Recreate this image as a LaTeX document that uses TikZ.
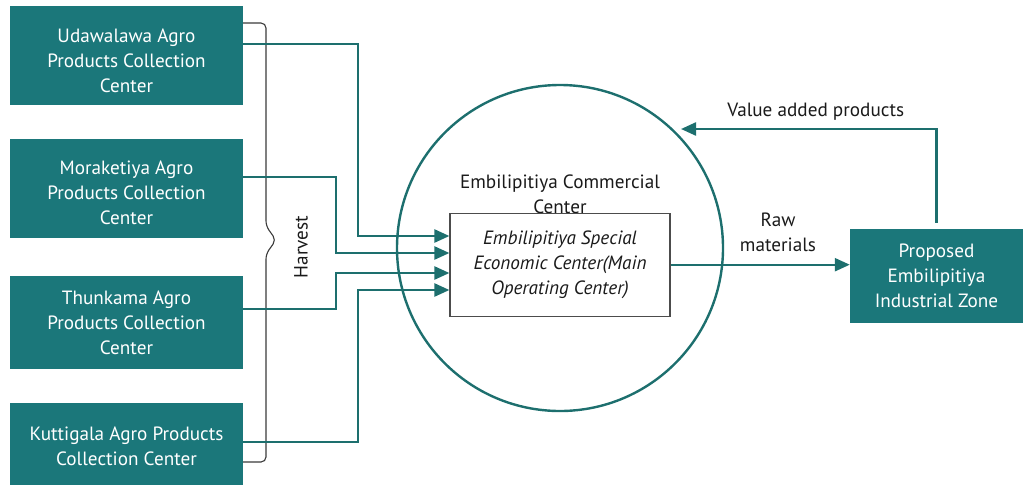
\documentclass[tikz,border=0pt]{standalone}
\usepackage{fontspec}
\setmainfont{PT Sans}
\usetikzlibrary{arrows.meta,calc}
\definecolor{tealfill}{HTML}{1B777A}
\definecolor{tealline}{HTML}{1D6F6E}
\definecolor{txt}{HTML}{1A1A1A}
\definecolor{bracec}{HTML}{3A3A3A}
\begin{document}
\begin{tikzpicture}[x=1pt,y=-1pt,
  src/.style={fill=tealfill,text=white,align=center,font=\fontsize{19.2}{25}\selectfont,inner sep=0pt,minimum width=233pt},
  conn/.style={draw=tealline,line width=2.4pt,-{Triangle[length=15pt,width=13pt]}},
  lbl/.style={text=txt,align=center,font=\fontsize{19.2}{25}\selectfont,inner sep=0pt},
  brace/.style={draw=bracec,line width=1.1pt,rounded corners=5pt}]
\useasboundingbox (0,0) rectangle (1024,485);
% source boxes
\node[src,minimum height=99pt] (b1) at (126.5,55.5) {\rule{0pt}{24pt}Udawalawa Agro\\Products Collection\\Center};
\node[src,minimum height=99pt] (b2) at (126.5,188.5) {\rule{0pt}{22pt}Moraketiya Agro\\Products Collection\\Center};
\node[src,minimum height=93pt] (b3) at (126.5,322.5) {Thunkama Agro\\Products Collection\\Center};
\node[src,minimum height=82pt] (b4) at (126.5,444) {\rule{0pt}{18pt}Kuttigala Agro Products\\Collection Center};
% brace
\draw[brace] (b1.east |- 0,23) -- (266,23) -- (266,226) -- (276,240) -- (266,254) -- (266,462) -- (b4.east |- 0,462);
\node[lbl,rotate=90] (hv) at (301,247) {Harvest};
% commercial center circle
\node[draw=tealline,line width=2.4pt,circle,minimum size=326pt,inner sep=0pt] (cc) at (560,248) {};
\node[lbl] (cl) at (560,194) {Embilipitiya Commercial\\Center};
\node[draw=black!70,line width=1.2pt,minimum width=220pt,minimum height=103pt,inner sep=0pt,align=center,text=txt,font=\fontsize{19.2}{25}\selectfont\itshape] (eb) at (560,264.7) {Embilipitiya Special\\Economic Center(Main\\Operating Center)};
% industrial zone
\node[src,minimum width=173pt,minimum height=94pt] (pz) at (936.5,276) {Proposed\\Embilipitiya\\Industrial Zone};
% connectors
\draw[conn] (b1.east |- 0,44) -| (358,236) -- (eb.west |- 0,236);
\draw[conn] (b2.east |- 0,177) -| (336,253) -- (eb.west |- 0,253);
\draw[conn] (b3.east |- 0,309) -| (336,273) -- (eb.west |- 0,273);
\draw[conn] (b4.east |- 0,442) -| (358,290) -- (eb.west |- 0,290);
\draw[conn] (eb.east) -- (eb.east -| pz.west);
\node[lbl] (raw) at (778,232) {Raw\\materials};
\coordinate (va) at (681,129);
\draw[conn] ([yshift=6pt]pz.north) |- (va);
\node[lbl] (val) at (815.7,111.7) {Value added products};
\end{tikzpicture}
\end{document}
